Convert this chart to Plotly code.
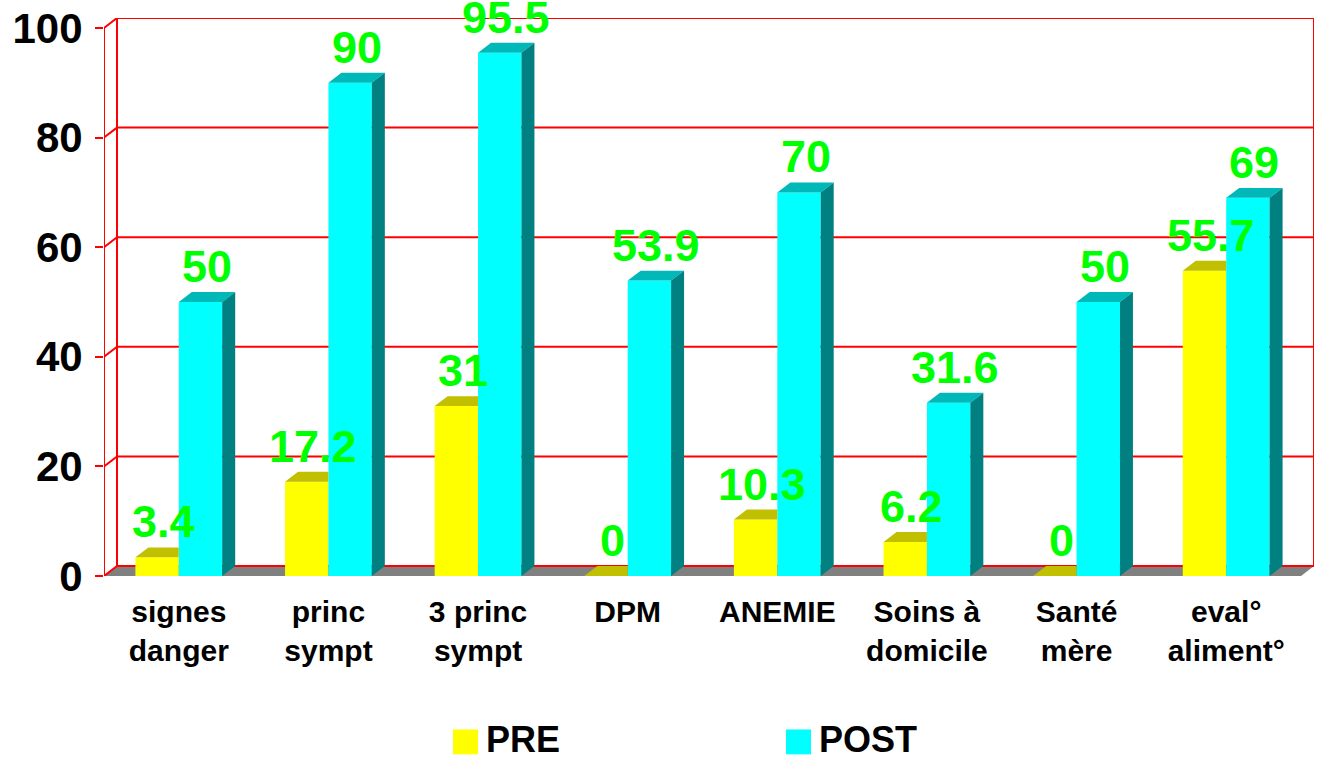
import plotly.graph_objects as go

# ---------------- data ----------------
categories = ["signes<br>danger", "princ<br>sympt", "3 princ<br>sympt", "DPM", "ANEMIE",
              "Soins à<br>domicile", "Santé<br>mère", "eval°<br>aliment°"]
pre_values = [3.4, 17.2, 31, 0, 10.3, 6.2, 0, 55.7]
post_values = [50, 90, 95.5, 53.9, 70, 31.6, 50, 69]
y_ticks = [0, 20, 40, 60, 80, 100]
series_names = ["PRE", "POST"]

# ---------------- style / layout constants ----------------
W, H = 1319, 757
ML, MR, MT, MB = 104, 5, 16, 181
PW, PH = W - ML - MR, H - MT - MB
N = len(categories)
YMAX = y_ticks[-1]
DX_PX, DY_PX = 13, 10                      # 3-D depth in pixels
DYU = DY_PX * YMAX / (PH - DY_PX)           # depth in y data units
DXU = DX_PX * N / (PW - DX_PX)              # depth in x data units
BW = 0.29                                   # bar width (category units)
FONT = "Liberation Sans, Arial, sans-serif"
RED = "#FF0000"
YEL, YEL_TOP = "#FFFF00", "#C0C000"
CYA, CYA_TOP, CYA_SIDE = "#00FFFF", "#00B8B8", "#008080"
FLOOR = "#808080"
LABEL_GREEN = "#00FF00"

fig = go.Figure()

# front faces (real bars)
fig.add_trace(go.Bar(x=list(range(N)), y=pre_values, width=BW, offset=-BW,
                     marker=dict(color=YEL, line=dict(width=0)), name=series_names[0],
                     showlegend=False, hoverinfo="y"))
fig.add_trace(go.Bar(x=list(range(N)), y=post_values, width=BW, offset=0,
                     marker=dict(color=CYA, line=dict(width=0)), name=series_names[1],
                     showlegend=False, hoverinfo="y"))


def poly_trace(polys, color):
    xs, ys = [], []
    for px, py in polys:
        xs += px + [px[0], None]
        ys += py + [py[0], None]
    return go.Scatter(x=xs, y=ys, mode="lines", fill="toself", fillcolor=color,
                      line=dict(width=0, color=color), hoverinfo="skip", showlegend=False)


# PRE top faces (right part hidden behind POST bar)
yel_tops = []
for i, v in enumerate(pre_values):
    c = i
    yel_tops.append(([c - BW, c, c, c - BW + DXU], [v, v, v + DYU, v + DYU]))
fig.add_trace(poly_trace(yel_tops, YEL_TOP))

# POST top and side faces
cy_tops, cy_sides = [], []
for i, v in enumerate(post_values):
    c = i
    cy_tops.append(([c, c + BW, c + BW + DXU, c + DXU], [v, v, v + DYU, v + DYU]))
    cy_sides.append(([c + BW, c + BW, c + BW + DXU, c + BW + DXU], [0, v, v + DYU, DYU]))
fig.add_trace(poly_trace(cy_tops, CYA_TOP))
fig.add_trace(poly_trace(cy_sides, CYA_SIDE))

# ---------------- walls / floor / gridlines ----------------
x0, x1 = -0.5, N - 0.5
shapes = []
# floor
shapes.append(dict(type="path", xref="x", yref="y", layer="below",
                   path=f"M{x0},0 L{x1},0 L{x1 + DXU},{DYU} L{x0 + DXU},{DYU} Z",
                   fillcolor=FLOOR, line=dict(width=0)))
for t in y_ticks:
    # back wall gridline
    shapes.append(dict(type="line", xref="x", yref="y", layer="below",
                       x0=x0 + DXU, x1=x1 + DXU, y0=t + DYU, y1=t + DYU,
                       line=dict(color=RED, width=2)))
    # side wall diagonal
    shapes.append(dict(type="line", xref="x", yref="y", layer="below",
                       x0=x0, x1=x0 + DXU, y0=t, y1=t + DYU,
                       line=dict(color=RED, width=2)))
# front axis line, back-left and back-right edges
shapes.append(dict(type="line", xref="x", yref="y", layer="below",
                   x0=x0, x1=x0, y0=0, y1=YMAX, line=dict(color=RED, width=2)))
shapes.append(dict(type="line", xref="x", yref="y", layer="below",
                   x0=x0 + DXU, x1=x0 + DXU, y0=DYU, y1=YMAX + DYU, line=dict(color=RED, width=2)))
shapes.append(dict(type="line", xref="x", yref="y", layer="below",
                   x0=x1 + DXU, x1=x1 + DXU, y0=DYU, y1=YMAX + DYU, line=dict(color=RED, width=2)))

# ---------------- data labels ----------------
annotations = []
for vals, off in ((pre_values, -BW / 2), (post_values, BW / 2)):
    for i, v in enumerate(vals):
        annotations.append(dict(x=i + off + DXU / 2, y=v, xref="x", yref="y",
                                text=f"{v:g}", showarrow=False, yanchor="bottom",
                                yshift=8, font=dict(family=FONT, size=45, color=LABEL_GREEN,
                                                    weight="bold")))

# ---------------- manual legend ----------------
legend_items = [(series_names[0], YEL, 453), (series_names[1], CYA, 786)]
SQ = 25
for name, col, px in legend_items:
    shapes.append(dict(type="rect", xref="paper", yref="paper",
                       x0=(px - ML) / PW, x1=(px + SQ - ML) / PW,
                       y0=(MT + PH - 755) / PH, y1=(MT + PH - 730) / PH,
                       fillcolor=col, line=dict(width=0)))
    annotations.append(dict(x=(px + SQ + 6 - ML) / PW, y=(MT + PH - 740) / PH,
                            xref="paper", yref="paper", xanchor="left", yanchor="middle",
                            text=name, showarrow=False,
                            font=dict(family=FONT, size=36, color="black", weight="bold")))

fig.update_layout(
    width=W, height=H,
    margin=dict(l=ML, r=MR, t=MT, b=MB),
    paper_bgcolor="white", plot_bgcolor="white",
    barmode="overlay",
    showlegend=False,
    shapes=shapes,
    annotations=annotations,
    xaxis=dict(range=[x0, x1 + DXU], tickvals=list(range(N)), ticktext=categories,
               showgrid=False, zeroline=False, showline=False, ticks="",
               ticklabelstandoff=15,
               tickfont=dict(family=FONT, size=30, color="black", weight="bold")),
    yaxis=dict(range=[0, YMAX + DYU], tickvals=y_ticks, showgrid=False, zeroline=False,
               showline=False, ticks="outside", ticklen=8, tickwidth=2, tickcolor=RED,
               ticklabelstandoff=4,
               tickfont=dict(family=FONT, size=42, color="black", weight="bold")),
)

fig.write_html("out.html")
